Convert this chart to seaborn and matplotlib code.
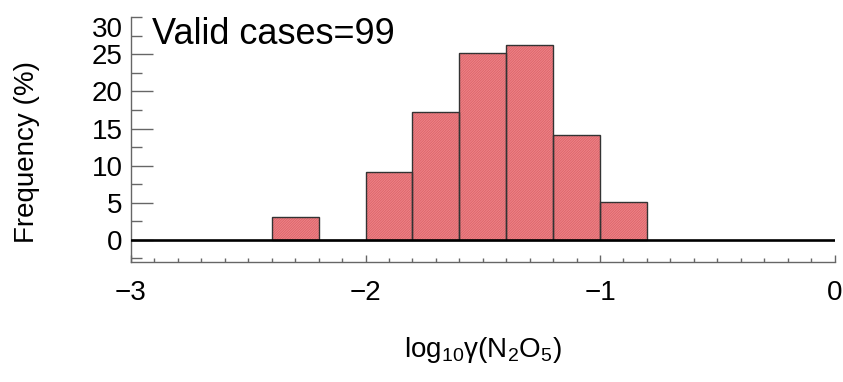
import numpy as np
import pandas as pd
import matplotlib
matplotlib.use("Agg")
import matplotlib.pyplot as plt
import seaborn as sns
from matplotlib.ticker import MultipleLocator

# ---- data ----
bin_edges = [-2.4, -2.2, -2.0, -1.8, -1.6, -1.4, -1.2, -1.0, -0.8]
bin_centers = [-2.3, -2.1, -1.9, -1.7, -1.5, -1.3, -1.1, -0.9]
freq_pct = [3.03, 0.0, 9.09, 17.17, 25.25, 26.26, 14.14, 5.05]
valid_cases = 99
x_limits = (-3, 0)
y_limits = (-3, 30)

sns.set_theme(style="ticks")
plt.rcParams["font.family"] = ["Liberation Sans", "DejaVu Sans"]
plt.rcParams["mathtext.fontset"] = "custom"
plt.rcParams["mathtext.rm"] = "Liberation Sans"
plt.rcParams["mathtext.it"] = "Liberation Sans"
plt.rcParams["mathtext.default"] = "regular"
plt.rcParams["hatch.linewidth"] = 0.5
plt.rcParams["text.color"] = "black"
plt.rcParams["axes.labelcolor"] = "black"

fill_col = "#d63f46"
hatch_col = "#f09a9d"
edge_col = "#333333"
axis_col = "#666666"

fig = plt.figure(figsize=(8.43, 3.82), dpi=100)
ax = fig.add_axes([131 / 843, 1 - 262 / 382, (834.5 - 131) / 843, (262 - 17.3) / 382])

df = pd.DataFrame({"log_gamma": bin_centers, "freq": freq_pct})

# filled, hatched bars
sns.histplot(data=df, x="log_gamma", weights="freq", bins=bin_edges,
             color=fill_col, edgecolor=hatch_col, linewidth=0,
             hatch="/" * 20, alpha=1, ax=ax)
# outline
sns.histplot(data=df, x="log_gamma", weights="freq", bins=bin_edges,
             fill=False, color=edge_col, linewidth=1.0, ax=ax)

ax.axhline(0, color="black", lw=1.9, zorder=4)

ax.set_xlim(*x_limits)
ax.set_ylim(*y_limits)

ax.xaxis.set_major_locator(MultipleLocator(1))
ax.xaxis.set_minor_locator(MultipleLocator(0.1))
ax.yaxis.set_major_locator(MultipleLocator(5))
ax.yaxis.set_minor_locator(MultipleLocator(2.5))

ax.tick_params(axis="y", which="major", direction="in", length=16, width=1,
               color=axis_col, labelsize=20, pad=6, labelcolor="black")
ax.tick_params(axis="y", which="minor", direction="in", length=8, width=1,
               color=axis_col)
ax.tick_params(axis="x", which="major", direction="in", length=5, width=1,
               color=axis_col, labelsize=20, pad=13, labelcolor="black")
ax.tick_params(axis="x", which="minor", direction="in", length=2.6, width=1,
               color=axis_col)

for s in ["top", "right"]:
    ax.spines[s].set_visible(False)
for s in ["left", "bottom"]:
    ax.spines[s].set_color(axis_col)
    ax.spines[s].set_linewidth(1)

ax.set_xlabel(r"log$_{10}$γ(N$_2$O$_5$)", fontsize=20)
ax.xaxis.set_label_coords(0.5, -0.30)
ax.set_ylabel("Frequency (%)", fontsize=20)
ax.yaxis.set_label_coords(-0.13, 0.45)

ax.text(0.03, 1.0, f"Valid cases={valid_cases}", transform=ax.transAxes,
        ha="left", va="top", fontsize=26)

fig.canvas.draw()
for lab in ax.get_yticklabels():
    if lab.get_text() == "30":
        lab.set_va("top")
for t, lab in zip(ax.yaxis.get_major_ticks(), ax.get_yticklabels()):
    if lab.get_text() == "30":
        t.tick1line.set_markersize(8)

fig.savefig("out.png", dpi=100)
